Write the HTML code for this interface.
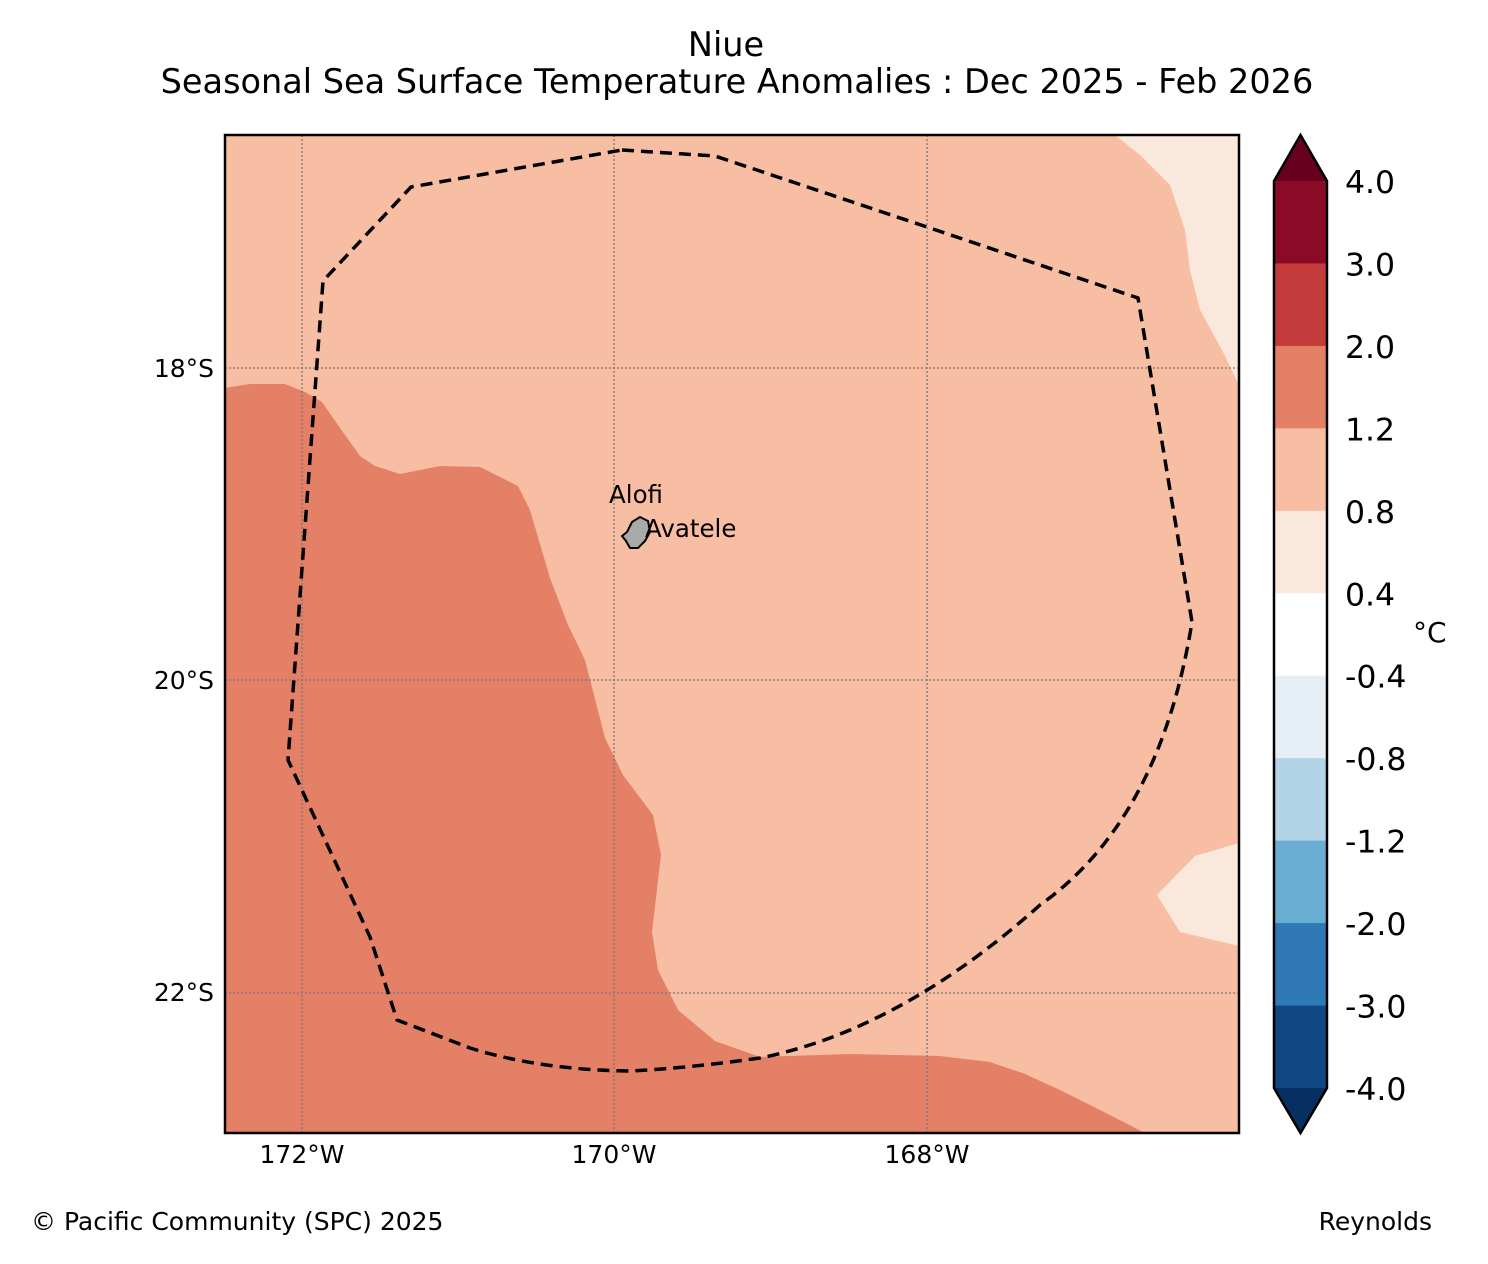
<!DOCTYPE html>
<html><head><meta charset="utf-8"><style>
body{margin:0;background:#fff}
svg{display:block;font-family:"DejaVu Sans","Liberation Sans",sans-serif}
</style></head><body>
<svg id="chart" width="1488" height="1264" viewBox="0 0 1488 1264" xmlns="http://www.w3.org/2000/svg">
<rect width="1488" height="1264" fill="#fff"/>
<text x="726" y="56" font-size="33.5" text-anchor="middle">Niue</text>
<text x="737" y="93" font-size="33.5" text-anchor="middle">Seasonal Sea Surface Temperature Anomalies : Dec 2025 - Feb 2026</text>
<g>
<rect x="225" y="135" width="1014" height="998" fill="#f8bea4"/>
<polygon fill="#e48066" points="225,388 250,384 285,384 305,392 322,402 340,428 360,456 375,466 400,474 440,466 480,467 518,486 530,510 550,578 568,625 585,660 605,738 623,775 653,815 661,855 652,932 658,970 678,1010 715,1041 760,1057 850,1054 940,1056 990,1062 1025,1074 1060,1090 1100,1110 1145,1133 225,1133"/>
<polygon fill="#fae8dd" points="1115,135 1140,155 1170,185 1185,230 1190,270 1200,310 1222,350 1239,385 1239,135"/>
<polygon fill="#fae8dd" points="1239,843 1195,856 1157,895 1180,932 1239,946"/>
<g stroke="#777" stroke-width="1.3" stroke-dasharray="2,2">
<line x1="302" y1="135" x2="302" y2="1133"/><line x1="614" y1="135" x2="614" y2="1133"/><line x1="927" y1="135" x2="927" y2="1133"/>
<line x1="225" y1="368" x2="1239" y2="368"/><line x1="225" y1="680" x2="1239" y2="680"/><line x1="225" y1="993" x2="1239" y2="993"/>
</g>
<path fill="none" stroke="#000" stroke-width="3.5" stroke-dasharray="12,7" d="M622,150 L715,156 L930,228 L1138,298 L1192,622 Q1160,820 1040,905 Q900,1030 760,1058 Q690,1068 630,1071 Q540,1070 470,1048 L397,1020 L370,937 L288,760 L323,281 L411,187 Z"/>
<polygon fill="#aaa" stroke="#000" stroke-width="2" points="632,522 640,517 648,521 650,532 645,541 638,548 630,548 626,541 622,536 627,532"/>
<text x="609" y="503" font-size="24.5">Alofi</text>
<text x="645" y="537" font-size="24.5">Avatele</text>
<rect x="225" y="135" width="1014" height="998" fill="none" stroke="#000" stroke-width="2.5"/>
</g>
<g font-size="25">
<text x="214" y="377" text-anchor="end">18°S</text>
<text x="214" y="689" text-anchor="end">20°S</text>
<text x="214" y="1001" text-anchor="end">22°S</text>
<text x="302" y="1163" text-anchor="middle">172°W</text>
<text x="614" y="1163" text-anchor="middle">170°W</text>
<text x="927" y="1163" text-anchor="middle">168°W</text>
</g>
<g id="cbar"></g>
<text x="1413" y="642" font-size="28">°C</text>
<text x="31" y="1230" font-size="25">© Pacific Community (SPC) 2025</text>
<text x="1432" y="1230" font-size="25" text-anchor="end">Reynolds</text>
</svg>
<script>
const levelLabels=["4.0","3.0","2.0","1.2","0.8","0.4","-0.4","-0.8","-1.2","-2.0","-3.0","-4.0"];
const bandColors=["#8a0b25","#c33b3b","#e48066","#f8bea4","#fae8dd","#ffffff","#e6eef5","#b2d4e6","#6aadd2","#2f7ab6","#114782"];
const overColor="#67001f", underColor="#053061";
const NS="http://www.w3.org/2000/svg";
const g=document.getElementById('cbar');
const x0=1274,x1=1327,yTop=181,yBot=1088;
const step=(yBot-yTop)/bandColors.length;
function yAt(i){return yTop+i*step;}
function mk(t,a){const e=document.createElementNS(NS,t);for(const k in a)e.setAttribute(k,a[k]);g.appendChild(e);return e;}
bandColors.forEach((c,i)=>{
 const r=mk('rect',{x:x0,y:yAt(i),width:x1-x0,height:step+0.5,fill:c});
 
 
});
const t1=mk('polygon',{points:`${x0},${yTop} ${(x0+x1)/2},135 ${x1},${yTop}`,fill:overColor});


const t2=mk('polygon',{points:`${x0},${yBot} ${(x0+x1)/2},1133 ${x1},${yBot}`,fill:underColor});


const o=mk('polygon',{points:`${x0},${yTop} ${(x0+x1)/2},135 ${x1},${yTop} ${x1},${yBot} ${(x0+x1)/2},1133 ${x0},${yBot}`,fill:'none',stroke:'#000','stroke-width':2.5});


levelLabels.forEach((l,i)=>{
 const t=mk('text',{x:1345,y:yAt(i)+12,'font-size':31.5});
 t.textContent=l;
 
 
});
</script>
</body></html>
